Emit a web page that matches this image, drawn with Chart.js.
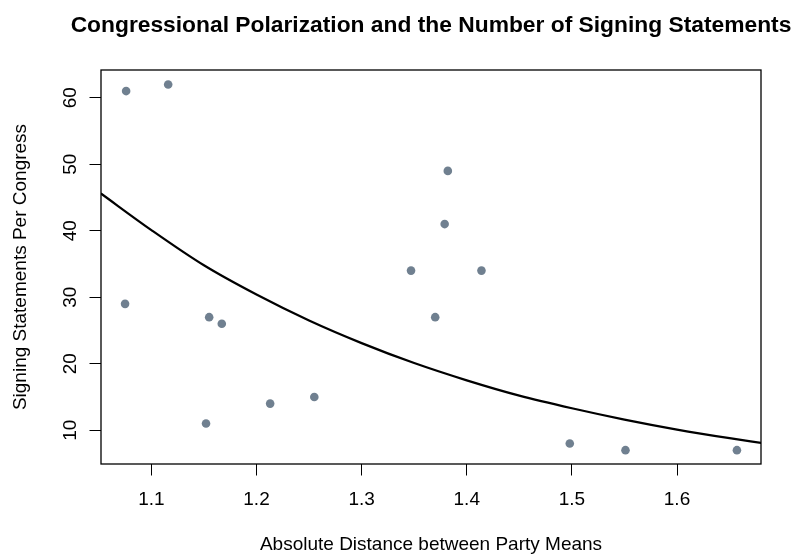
<!DOCTYPE html>
<html><head><meta charset="utf-8">
<script src="https://cdn.jsdelivr.net/npm/chart.js@4"></script>
<style>html,body{margin:0;padding:0;background:#fff}canvas{display:block}</style>
</head><body>
<canvas id="c" width="796" height="554"></canvas>
<script>
// ---- data ----
const distance   = [1.076, 1.116, 1.075, 1.155, 1.167, 1.152, 1.213, 1.255, 1.347, 1.370, 1.379, 1.382, 1.414, 1.498, 1.551, 1.657];
const statements = [61, 62, 29, 27, 26, 11, 14, 15, 34, 27, 41, 49, 34, 8, 7, 7];
// fitted curve
const fitX = [1.052, 1.10, 1.15, 1.20, 1.25, 1.30, 1.35, 1.40, 1.45, 1.50, 1.55, 1.60, 1.65, 1.680];
const fitY = [45.6, 40.1, 34.8, 30.4, 26.5, 23.1, 20.1, 17.5, 15.2, 13.3, 11.6, 10.1, 8.8, 8.1];
const xTicks = [1.1, 1.2, 1.3, 1.4, 1.5, 1.6];
const xTickLabels = ['1.1', '1.2', '1.3', '1.4', '1.5', '1.6'];
const yTicks = [10, 20, 30, 40, 50, 60];
const yTickLabels = ['10', '20', '30', '40', '50', '60'];
const chartTitle = 'Congressional Polarization and the Number of Signing Statements';
const xTitle = 'Absolute Distance between Party Means';
const yTitle = 'Signing Statements Per Congress';

const FONT = '"Liberation Sans", Arial, Helvetica, sans-serif';
Chart.defaults.font.family = FONT;
Chart.defaults.color = '#000';

const frame = {
  id: 'frame',
  afterDatasetsDraw(chart) {
    const {ctx, chartArea: a} = chart;
    ctx.save();
    ctx.strokeStyle = '#000';
    ctx.lineWidth = 1.3;
    ctx.strokeRect(a.left, a.top, a.right - a.left, a.bottom - a.top);
    ctx.restore();
  },
  afterDraw(chart) {
    const {ctx, chartArea: a} = chart;
    ctx.save();
    ctx.font = 'bold 22.8px ' + FONT;
    ctx.fillStyle = '#000';
    ctx.textAlign = 'center';
    ctx.textBaseline = 'alphabetic';
    ctx.fillText(chartTitle, (a.left + a.right) / 2, 31.7);
    ctx.restore();
  }
};

const pts = distance.map((x, i) => ({x: x, y: statements[i]}));
const fit = fitX.map((x, i) => ({x: x, y: fitY[i]}));

new Chart(document.getElementById('c'), {
  type: 'scatter',
  data: {
    datasets: [
      {
        data: pts,
        backgroundColor: '#708090',
        borderWidth: 0,
        pointRadius: 4.3,
        pointHoverRadius: 4.3,
        order: 2
      },
      {
        type: 'line',
        data: fit,
        borderColor: '#000',
        borderWidth: 2.2,
        pointRadius: 0,
        fill: false,
        cubicInterpolationMode: 'monotone',
        order: 1
      }
    ]
  },
  options: {
    responsive: false,
    animation: false,
    devicePixelRatio: 1,
    layout: {padding: {top: 70, right: 35, bottom: 0, left: 0}},
    plugins: {legend: {display: false}, tooltip: {enabled: false}, title: {display: false}},
    scales: {
      x: {
        type: 'linear',
        position: 'bottom',
        min: 1.0521, max: 1.6799,
        afterBuildTicks: s => { s.ticks = xTicks.map(v => ({value: v})); },
        afterFit: s => { s.height = 90; },
        ticks: {
          callback: v => xTickLabels[xTicks.indexOf(v)],
          maxRotation: 0, minRotation: 0, autoSkip: false,
          padding: 13, font: {size: 19}, color: '#000'
        },
        grid: {drawOnChartArea: false, drawTicks: true, tickLength: 11.5, color: '#000', lineWidth: 1},
        border: {display: false},
        title: {display: true, text: xTitle, font: {size: 19, lineHeight: 1}, padding: {top: 0, bottom: 0}, color: '#000'}
      },
      y: {
        type: 'linear',
        min: 4.92, max: 64.17,
        afterBuildTicks: s => { s.ticks = yTicks.map(v => ({value: v})); },
        afterFit: s => { s.width = 101; },
        ticks: {
          callback: v => yTickLabels[yTicks.indexOf(v)],
          minRotation: 90, maxRotation: 90, crossAlign: 'center', autoSkip: false,
          padding: 8, font: {size: 19}, color: '#000'
        },
        grid: {drawOnChartArea: false, drawTicks: true, tickLength: 11.5, color: '#000', lineWidth: 1},
        border: {display: false},
        title: {display: true, text: yTitle, font: {size: 19, lineHeight: 1}, padding: {top: 11, bottom: 0}, color: '#000'}
      }
    }
  },
  plugins: [frame]
});
</script>
</body></html>
